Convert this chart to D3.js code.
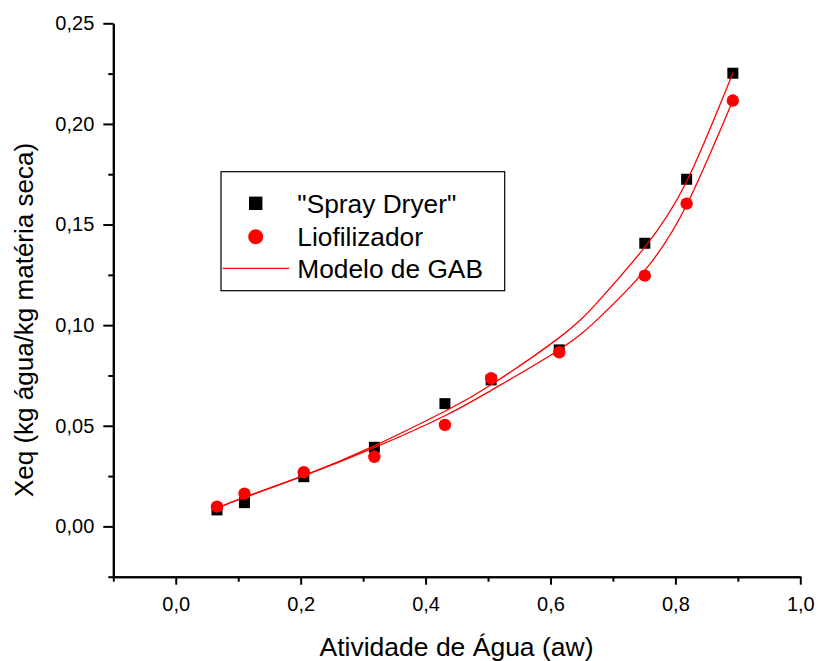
<!DOCTYPE html>
<html>
<head>
<meta charset="utf-8">
<script src="https://cdn.jsdelivr.net/npm/d3@7"></script>
<style>
  body { margin: 0; background: #fff; }
  svg { display: block; font-family: "Liberation Sans", Arial, sans-serif; }
</style>
</head>
<body>
<div class="chart"></div>
<script>
// water activity of each salt solution
var aw = [0.066, 0.110, 0.205, 0.318, 0.431, 0.505, 0.614, 0.751, 0.818, 0.892];
// Xeq, kg water / kg dry matter
var sprayDryer = [0.0082, 0.0118, 0.0247, 0.0393, 0.0610, 0.0728, 0.0877, 0.1407, 0.1725, 0.2252];
var liofilizador = [0.0098, 0.0163, 0.0269, 0.0346, 0.0504, 0.0736, 0.0865, 0.1246, 0.1604, 0.2116];

// GAB fitted curves
var gabAw = [0.0655, 0.111, 0.205, 0.317, 0.431, 0.505, 0.614, 0.679, 0.751, 0.818, 0.892];
var gabSpray = [0.0090, 0.0145, 0.0252, 0.0399, 0.0572, 0.0704, 0.0938, 0.1127, 0.1388, 0.1714, 0.2253];
var gabLiof = [0.0090, 0.0146, 0.0252, 0.0390, 0.0550, 0.0676, 0.0878, 0.1040, 0.1272, 0.1597, 0.2116];

var xMajor = [0.0, 0.2, 0.4, 0.6, 0.8, 1.0];
var xMinor = [-0.1, 0.1, 0.3, 0.5, 0.7, 0.9];
var yMajor = [0.00, 0.05, 0.10, 0.15, 0.20, 0.25];
var yMinor = [-0.025, 0.025, 0.075, 0.125, 0.175, 0.225];

var legendLabels = ['"Spray Dryer"', 'Liofilizador', 'Modelo de GAB'];

(function() {
  'use strict';

  var width = 818, height = 661;
  var locale = d3.formatLocale({decimal: ',', thousands: '.', grouping: [3], currency: ['', '']});

  var svg = d3.select('.chart').append('svg')
    .attr('width', width)
    .attr('height', height);

  var x = d3.scaleLinear().domain([-0.1, 1.0]).range([113.3, 800.3]);
  var y = d3.scaleLinear().domain([-0.025, 0.25]).range([576.7, 23.3]);

  // axes
  svg.append('g').attr('transform', 'translate(0,576.7)')
    .call(d3.axisBottom(x).tickValues(xMajor).tickSize(8).tickPadding(12)
      .tickSizeOuter(0).tickFormat(locale.format('.1f')));
  svg.append('g').attr('transform', 'translate(0,576.7)')
    .call(d3.axisBottom(x).tickValues(xMinor).tickSize(5).tickSizeOuter(0).tickFormat(''));

  svg.append('g').attr('transform', 'translate(113.3,0)')
    .call(d3.axisLeft(y).tickValues(yMajor).tickSize(10).tickPadding(9)
      .tickSizeOuter(0).tickFormat(locale.format('.2f')));
  svg.append('g').attr('transform', 'translate(113.3,0)')
    .call(d3.axisLeft(y).tickValues(yMinor).tickSize(5).tickSizeOuter(0).tickFormat(''));

  svg.selectAll('.domain').attr('stroke', '#000').attr('stroke-width', 2);
  svg.selectAll('.tick line').attr('stroke', '#000').attr('stroke-width', 2);
  svg.selectAll('.tick text').attr('font-size', 20).attr('fill', '#000')
    .attr('font-family', '"Liberation Sans", Arial, sans-serif');

  // titles
  svg.append('text')
    .attr('x', 456.5).attr('y', 656)
    .attr('text-anchor', 'middle')
    .attr('font-size', 26.5)
    .text('Atividade de Água (aw)');

  svg.append('text')
    .attr('transform', 'translate(33,320) rotate(-90)')
    .attr('text-anchor', 'middle')
    .attr('font-size', 26)
    .text('Xeq (kg água/kg matéria seca)');

  // markers
  var sq = 11;
  svg.append('g').selectAll('rect')
    .data(aw.map(function(a, i) { return [a, sprayDryer[i]]; }))
    .enter().append('rect')
    .attr('x', function(d) { return x(d[0]) - sq / 2; })
    .attr('y', function(d) { return y(d[1]) - sq / 2; })
    .attr('width', sq).attr('height', sq)
    .attr('fill', '#000');

  svg.append('g').selectAll('circle')
    .data(aw.map(function(a, i) { return [a, liofilizador[i]]; }))
    .enter().append('circle')
    .attr('cx', function(d) { return x(d[0]); })
    .attr('cy', function(d) { return y(d[1]); })
    .attr('r', 6.2)
    .attr('fill', '#ff0000');

  // model curves
  var line = d3.line()
    .x(function(d) { return x(d[0]); })
    .y(function(d) { return y(d[1]); })
    .curve(d3.curveNatural);

  [gabSpray, gabLiof].forEach(function(series) {
    svg.append('path')
      .datum(gabAw.map(function(a, i) { return [a, series[i]]; }))
      .attr('d', line)
      .attr('fill', 'none')
      .attr('stroke', '#ff0000')
      .attr('stroke-width', 1.3);
  });

  // legend
  var lg = svg.append('g');
  lg.append('rect')
    .attr('x', 221).attr('y', 171.7)
    .attr('width', 283.7).attr('height', 119)
    .attr('fill', '#fff').attr('stroke', '#000').attr('stroke-width', 1.2);

  lg.append('rect').attr('x', 255.7 - 6.7).attr('y', 203.3 - 6.7)
    .attr('width', 13.4).attr('height', 13.4).attr('fill', '#000');
  lg.append('circle').attr('cx', 255.7).attr('cy', 236.7).attr('r', 7.5).attr('fill', '#ff0000');
  lg.append('line').attr('x1', 222.7).attr('x2', 289.3).attr('y1', 268.3).attr('y2', 268.3)
    .attr('stroke', '#ff0000').attr('stroke-width', 1.3);

  lg.selectAll('text.lbl')
    .data(legendLabels)
    .enter().append('text')
    .attr('class', 'lbl')
    .attr('x', 297.3)
    .attr('y', function(d, i) { return 213 + i * 32.7; })
    .attr('font-size', 26.3)
    .text(function(d) { return d; });
})();
</script>
</body>
</html>
